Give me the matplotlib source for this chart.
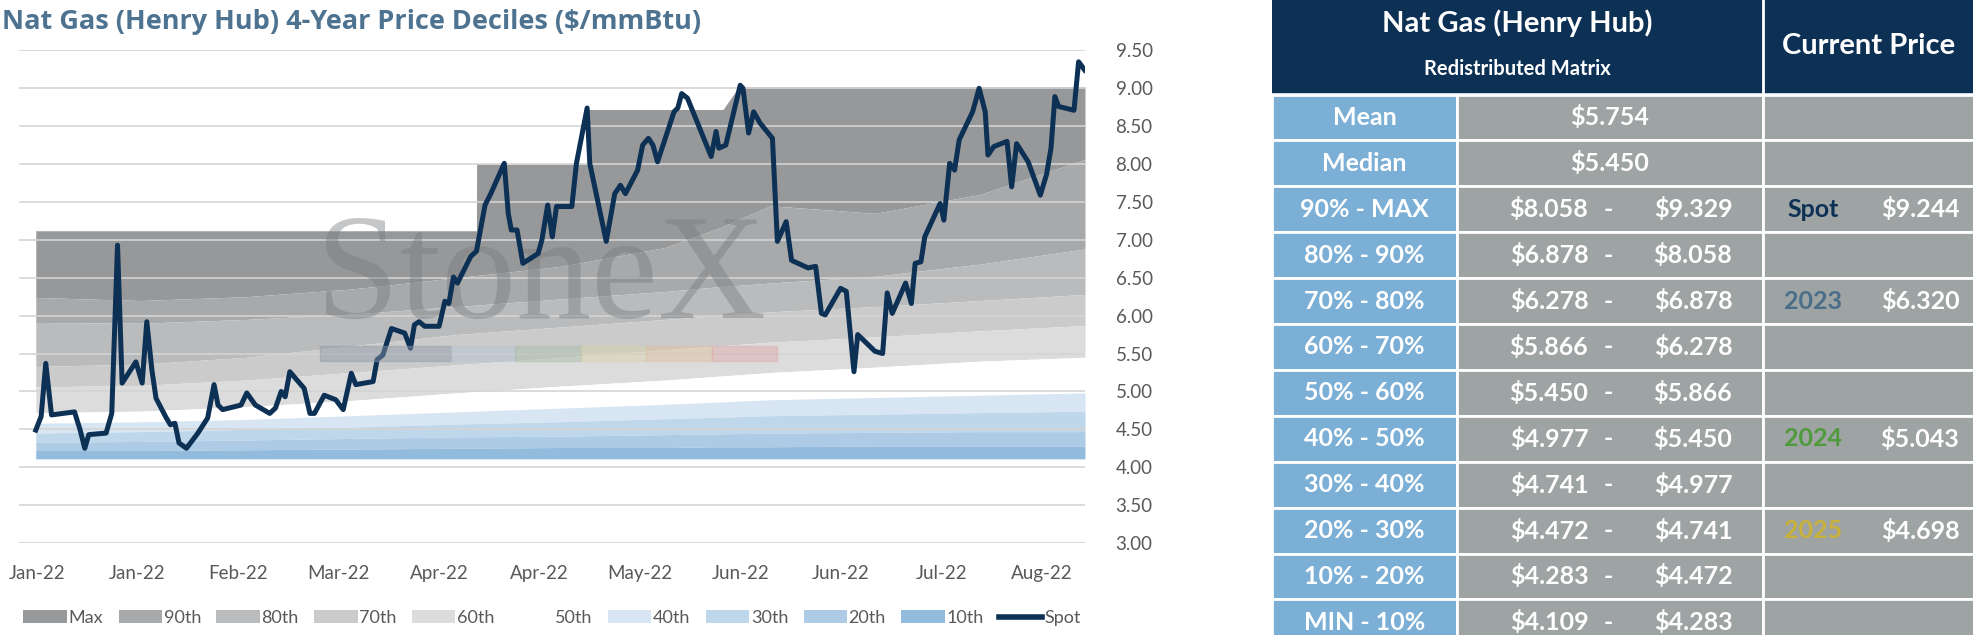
import numpy as np
import matplotlib

matplotlib.use("Agg")
import matplotlib.pyplot as plt  # noqa: E402
from matplotlib.patches import Rectangle, Patch  # noqa: E402
from matplotlib.lines import Line2D  # noqa: E402

plt.rcParams["font.family"] = ["Lato", "DejaVu Sans"]

W, H = 1974, 635

# ---- chart data (t runs 0..100 across the window) ----
spot_t = [0.0, 0.51, 0.95, 1.50, 3.69, 4.23, 4.67, 5.05, 6.70, 7.24, 7.79, 8.23, 9.54, 10.14,
          10.58, 11.07, 11.46, 12.44, 12.83, 13.26, 13.65, 14.36, 15.45, 16.38, 16.99, 17.37,
          17.81, 19.56, 20.11, 20.93, 22.30, 22.84, 23.39, 23.77, 24.21, 25.58, 26.13, 26.56,
          27.49, 28.59, 29.30, 30.07, 30.50, 32.15, 32.53, 33.08, 33.90, 35.16, 35.71, 36.09,
          36.53, 37.07, 38.44, 38.99, 39.37, 39.81, 40.19, 41.45, 42.00, 42.82, 43.37, 44.65,
          45.03, 45.32, 45.87, 46.42, 47.88, 48.24, 48.79, 49.23, 49.63, 51.09, 51.53, 52.55,
          52.80, 54.37, 55.18, 55.72, 56.20, 57.36, 57.84, 58.39, 58.82, 59.26, 60.83, 61.19,
          61.56, 62.11, 64.37, 64.84, 65.10, 65.76, 67.14, 67.40, 67.94, 68.42, 69.04, 70.21,
          70.68, 71.52, 72.03, 73.60, 74.33, 74.88, 75.24, 76.70, 77.25, 77.98, 78.34, 79.98,
          80.71, 81.15, 81.63, 82.90, 83.45, 83.81, 84.36, 84.73, 86.19, 86.55, 87.10, 87.57,
          88.01, 89.29, 89.91, 90.49, 90.75, 91.30, 92.57, 93.01, 93.48, 94.58, 95.74, 96.33,
          96.76, 97.13, 97.49, 98.95, 99.39, 99.97]
spot = [4.49, 4.67, 5.37, 4.69, 4.73, 4.49, 4.25, 4.43, 4.45, 4.71, 6.93, 5.11, 5.39, 5.11,
        5.92, 5.28, 4.91, 4.65, 4.56, 4.58, 4.32, 4.25, 4.45, 4.65, 5.09, 4.82, 4.76, 4.82,
        4.98, 4.82, 4.71, 4.78, 5.00, 4.93, 5.26, 5.04, 4.71, 4.71, 4.95, 4.89, 4.76, 5.24,
        5.09, 5.13, 5.42, 5.48, 5.83, 5.77, 5.57, 5.88, 5.92, 5.86, 5.86, 6.19, 6.16, 6.51,
        6.43, 6.78, 6.85, 7.46, 7.61, 8.01, 7.35, 7.13, 7.13, 6.69, 6.82, 7.00, 7.46, 7.04,
        7.44, 7.44, 8.01, 8.74, 8.01, 6.98, 7.61, 7.72, 7.61, 7.92, 8.25, 8.34, 8.25, 8.03,
        8.69, 8.74, 8.93, 8.87, 8.10, 8.43, 8.21, 8.25, 9.04, 9.00, 8.41, 8.69, 8.54, 8.34,
        6.98, 7.24, 6.73, 6.63, 6.65, 6.03, 6.01, 6.36, 6.32, 5.26, 5.75, 5.53, 5.50, 6.30,
        6.03, 6.43, 6.16, 6.69, 6.71, 7.04, 7.48, 7.26, 8.01, 7.92, 8.32, 8.69, 9.00, 8.69,
        8.12, 8.23, 8.30, 7.70, 8.27, 8.03, 7.59, 7.86, 8.21, 8.89, 8.76, 8.71, 9.35, 9.24]

max_t = [0, 42.0, 42.01, 52.6, 52.61, 65.5, 67.0, 100]
max_v = [7.12, 7.12, 8.00, 8.00, 8.72, 8.72, 9.02, 9.02]

band_t = [0, 10, 20, 30, 40, 50, 60, 65, 70, 80, 90, 100]
p90 = [6.24, 6.20, 6.25, 6.35, 6.50, 6.65, 6.90, 7.15, 7.45, 7.35, 7.60, 8.06]
p80 = [5.91, 5.90, 5.95, 6.02, 6.12, 6.22, 6.32, 6.38, 6.43, 6.52, 6.68, 6.88]
p70 = [5.33, 5.36, 5.45, 5.60, 5.75, 5.85, 5.95, 6.00, 6.05, 6.12, 6.20, 6.28]
p60 = [5.06, 5.08, 5.15, 5.25, 5.35, 5.45, 5.55, 5.60, 5.65, 5.72, 5.80, 5.87]
p50 = [4.72, 4.74, 4.80, 4.88, 4.98, 5.07, 5.15, 5.20, 5.25, 5.32, 5.40, 5.45]
p40 = [4.58, 4.60, 4.63, 4.68, 4.73, 4.78, 4.83, 4.86, 4.89, 4.92, 4.95, 4.98]
p30 = [4.45, 4.47, 4.50, 4.53, 4.57, 4.60, 4.64, 4.66, 4.68, 4.70, 4.72, 4.74]
p20 = [4.33, 4.34, 4.36, 4.38, 4.40, 4.41, 4.43, 4.44, 4.45, 4.46, 4.47, 4.47]
p10 = [4.22, 4.22, 4.23, 4.24, 4.25, 4.26, 4.26, 4.27, 4.27, 4.28, 4.28, 4.28]
pmin = [4.11] * 12

tick_labels = ["Jan-22", "Jan-22", "Feb-22", "Mar-22", "Apr-22", "Apr-22", "May-22",
               "Jun-22", "Jun-22", "Jul-22", "Aug-22"]
band_names = ["Max", "90th", "80th", "70th", "60th", "50th", "40th", "30th", "20th", "10th"]
band_colors = ["#979899", "#a8a9aa", "#babbbc", "#cbcbcb", "#dcdcdc", "#ffffff",
               "#d8e5f2", "#bfd7eb", "#aecbe5", "#93bbdd"]

# ---- table data ----
row_labels = ["Mean", "Median", "90% - MAX", "80% - 90%", "70% - 80%", "60% - 70%",
              "50% - 60%", "40% - 50%", "30% - 40%", "20% - 30%", "10% - 20%", "MIN - 10%"]
row_lo = ["$5.754", "$5.450", "$8.058", "$6.878", "$6.278", "$5.866", "$5.450", "$4.977",
          "$4.741", "$4.472", "$4.283", "$4.109"]
row_hi = [None, None, "$9.329", "$8.058", "$6.878", "$6.278", "$5.866", "$5.450", "$4.977",
          "$4.741", "$4.472", "$4.283"]
current = {2: ("Spot", "$9.244", "#0d3055"), 4: ("2023", "$6.320", "#4a6e8a"),
           7: ("2024", "$5.043", "#4f9a3c"), 9: ("2025", "$4.698", "#c9b23a")}

NAVY = "#0d3055"

fig = plt.figure(figsize=(W / 100, H / 100), dpi=100)

ax = fig.add_axes([19 / W, 1 - 543 / H, (1085 - 19) / W, (543 - 50.4) / H])
ax.set_xlim(-1.6, 100)
ax.set_ylim(3.0, 9.5)

# fine grid so the step-shaped max band meets the smooth 90th line cleanly
grid = np.union1d(np.linspace(0, 100, 801), max_t)
bounds = [np.interp(grid, max_t, max_v)]
for b in [p90, p80, p70, p60, p50, p40, p30, p20, p10, pmin]:
    bounds.append(np.interp(grid, band_t, b))
for i in range(10):
    ax.fill_between(grid, bounds[i], bounds[i + 1], color=band_colors[i], lw=0, zorder=1)

ax.set_yticks(np.arange(3.0, 9.51, 0.5))
ax.grid(axis="y", color="#d4d4d4", lw=1.2, zorder=2)
ax.set_axisbelow(False)
ax.yaxis.tick_right()
ax.yaxis.set_major_formatter(matplotlib.ticker.FormatStrFormatter("%.2f"))
ax.set_xticks(np.linspace(0.1, 95.9, 11))
ax.set_xticklabels(tick_labels)
ax.tick_params(axis="both", length=0, labelsize=13.5, colors="#595959")
ax.tick_params(axis="y", pad=22)
ax.tick_params(axis="x", pad=16)
for s in ax.spines.values():
    s.set_visible(False)

# watermark
ax.text(541 / W, 1 - 282 / H, "StoneX", transform=fig.transFigure, ha="center", va="center",
        family="Liberation Serif", fontsize=108, color="#76797c", alpha=0.42, zorder=3)
strip_x = [320, 451, 515, 581, 646, 712, 777]
strip_c = ["#8f9aa8", "#b9c6d6", "#a8bca8", "#d8d2a8", "#e0c0a0", "#e0a8a8"]
for k, c in enumerate(strip_c):
    fig.patches.append(Rectangle((strip_x[k] / W, 1 - 361 / H), (strip_x[k + 1] - strip_x[k]) / W,
                                 15 / H, transform=fig.transFigure, color=c, alpha=0.45,
                                 zorder=3))

ax.plot(spot_t, spot, color=NAVY, lw=3.6, solid_joinstyle="round", zorder=5)

fig.text(2 / W, 1 - 22 / H, "Nat Gas (Henry Hub) 4-Year Price Deciles ($/mmBtu)",
         fontsize=19.5, fontweight="bold", color="#4e7391", va="center", ha="left",
         family="Open Sans")

handles = [Patch(facecolor=c, edgecolor="none") for c in band_colors]
handles.append(Line2D([0], [0], color=NAVY, lw=4))
fig.legend(handles, band_names + ["Spot"], loc="center", ncol=11,
           bbox_to_anchor=(552 / W, 1 - 618 / H), frameon=False, fontsize=13,
           handlelength=2.4, handletextpad=0.1, columnspacing=0.85, labelcolor="#595959")

# ---- table ----
tb = fig.add_axes([1272 / W, 0, 1 - 1272 / W, 1])
tb.set_xlim(1272, 1974)
tb.set_ylim(635, 0)
tb.axis("off")

x0, x1, x2, x3 = 1272, 1457, 1763, 1974
top, rh = 94.5, 45.9
BLUE, GRAY = "#7bafd6", "#9ea3a3"
tf = dict(color="white", fontweight="bold", ha="center", va="center")

tb.add_patch(Rectangle((x0, 0), x3 - x0, 92, color=NAVY))
tb.plot([x2, x2], [0, 92], color="white", lw=2)
tb.text((x0 + x2) / 2, 23, "Nat Gas (Henry Hub)", fontsize=21, **tf)
tb.text((x0 + x2) / 2, 69, "Redistributed Matrix", fontsize=14.5, **tf)
tb.text((x2 + x3) / 2, 46, "Current Price", fontsize=21, **tf)

for r, lab in enumerate(row_labels):
    y = top + r * rh
    tb.add_patch(Rectangle((x0, y), x1 - x0, rh, facecolor=BLUE, edgecolor="white", lw=2))
    tb.add_patch(Rectangle((x1, y), x2 - x1, rh, facecolor=GRAY, edgecolor="white", lw=2))
    tb.add_patch(Rectangle((x2, y), x3 - x2, rh, facecolor=GRAY, edgecolor="white", lw=2))
    yc = y + rh / 2
    tb.text((x0 + x1) / 2, yc, lab, fontsize=18, **tf)
    if row_hi[r] is None:
        tb.text((x1 + x2) / 2, yc, row_lo[r], fontsize=18, **tf)
    else:
        tb.text(1549, yc, row_lo[r], fontsize=18, **tf)
        tb.text(1608, yc, "-", fontsize=18, **tf)
        tb.text(1693, yc, row_hi[r], fontsize=18, **tf)
    if r in current:
        name, val, col = current[r]
        tb.text(1813, yc, name, fontsize=18, color=col, fontweight="bold", ha="center",
                va="center")
        tb.text(1920, yc, val, fontsize=18, **tf)

fig.savefig("out.png", dpi=100)
